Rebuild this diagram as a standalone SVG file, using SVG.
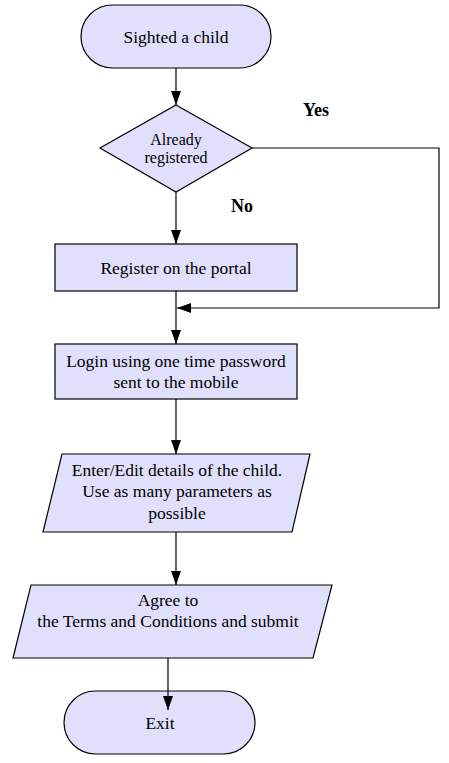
<svg xmlns="http://www.w3.org/2000/svg" width="449" height="763" viewBox="0 0 449 763">
<style>
.s{fill:#e0e0fc;stroke:#000;stroke-width:1.2}
.t{font-family:"Liberation Serif","Times New Roman",serif;font-size:17.5px;fill:#000;text-anchor:middle}
.sm{font-size:16px}
.b{font-weight:bold;text-anchor:start;font-size:18px}
.c{fill:none;stroke:#000;stroke-width:1.2;marker-end:url(#a)}
</style>
<defs>
<marker id="a" markerUnits="userSpaceOnUse" markerWidth="16" markerHeight="16" viewBox="0 0 16 12" refX="14" refY="6" orient="auto">
<path d="M0,1 L14,6 L0,11 Z" fill="#000"/>
</marker>
</defs>
<rect width="449" height="763" fill="#fff"/>
<g id="start">
<rect class="s" x="81" y="5" width="190" height="63" rx="31.5"/>
<text class="t" x="176" y="43">Sighted a child</text>
</g>
<g id="decision">
<polygon class="s" points="176,105 252,148 176,192 100,148"/>
<text class="t sm" x="176" y="145">Already</text>
<text class="t sm" x="176" y="163">registered</text>
</g>
<g id="yes"><text class="t b" x="303" y="116">Yes</text></g>
<g id="no"><text class="t b" x="231" y="212">No</text></g>
<g id="register">
<rect class="s" x="55" y="244" width="242" height="47"/>
<text class="t" x="176" y="274">Register on the portal</text>
</g>
<g id="login">
<rect class="s" x="55" y="344" width="242" height="55"/>
<text class="t" x="176" y="367">Login using one time password</text>
<text class="t" x="176" y="388">sent to the mobile</text>
</g>
<g id="details">
<polygon class="s" points="62,454 310,454 292,532 43,532"/>
<text class="t" x="177" y="476">Enter/Edit details of the child.</text>
<text class="t" x="177" y="497">Use as many parameters as</text>
<text class="t" x="177" y="519">possible</text>
</g>
<g id="agree">
<polygon class="s" points="31,585 332,585 313,658 13,658"/>
<text class="t" x="168" y="606">Agree to</text>
<text class="t" x="168" y="627">the Terms and Conditions and submit</text>
</g>
<g id="exit">
<rect class="s" x="64" y="691" width="191" height="63" rx="31.5"/>
<text class="t" x="160" y="729">Exit</text>
</g>
<g id="connectors">
<path class="c" d="M176,68 V105"/>
<path class="c" d="M176,192 V244"/>
<path class="c" d="M252,148 H439 V308 H177"/>
<path class="c" d="M176,291 V344"/>
<path class="c" d="M176,399 V454"/>
<path class="c" d="M176,532 V585"/>
<path class="c" d="M168,658 V710"/>
</g>
</svg>
